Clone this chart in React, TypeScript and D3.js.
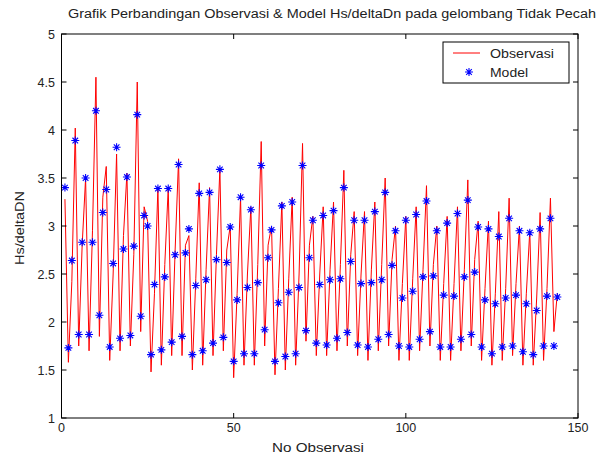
import React from 'react';
import * as d3 from 'd3';

// values, grouped in threes (high, low, middle case)
const observasi = [
  3.28, 1.58, 2.42, 4.02, 1.75, 2.80, 3.50, 1.70, 2.95, 4.55, 1.85, 3.30,
  3.62, 1.60, 2.50, 3.75, 1.70, 2.90, 3.55, 1.75, 2.70, 4.50, 1.90, 3.20,
  3.05, 1.48, 2.30, 3.40, 1.55, 2.60, 3.40, 1.65, 2.75, 3.70, 1.65, 2.80,
  2.90, 1.50, 2.45, 3.45, 1.55, 2.55, 3.40, 1.65, 2.70, 3.60, 1.70, 2.75,
  3.00, 1.42, 2.30, 3.30, 1.55, 2.50, 3.20, 1.55, 2.60, 3.88, 1.75, 2.80,
  3.00, 1.45, 2.35, 3.25, 1.50, 2.45, 3.30, 1.55, 2.50, 3.86, 1.80, 2.80,
  3.10, 1.65, 2.50, 3.20, 1.65, 2.55, 3.25, 1.70, 2.60, 3.58, 1.75, 2.70,
  3.15, 1.65, 2.50, 3.15, 1.60, 2.55, 3.25, 1.70, 2.60, 3.50, 1.75, 2.65,
  3.00, 1.60, 2.40, 3.10, 1.60, 2.45, 3.20, 1.70, 2.55, 3.42, 1.75, 2.60,
  3.00, 1.60, 2.40, 3.10, 1.60, 2.40, 3.20, 1.70, 2.55, 3.48, 1.75, 2.65,
  3.05, 1.60, 2.35, 3.05, 1.55, 2.30, 3.15, 1.60, 2.35, 3.29, 1.65, 2.40,
  3.00, 1.55, 2.30, 2.95, 1.55, 2.25, 3.14, 1.60, 2.35, 3.29, 1.90, 2.30,
];

const model = [
  3.40, 1.73, 2.64, 3.89, 1.87, 2.83, 3.50, 1.87, 2.83, 4.20, 2.07, 3.14,
  3.38, 1.74, 2.61, 3.82, 1.83, 2.76, 3.51, 1.86, 2.79, 4.16, 2.06, 3.11,
  3.00, 1.66, 2.39, 3.39, 1.71, 2.47, 3.39, 1.79, 2.70, 3.64, 1.85, 2.72,
  2.97, 1.66, 2.38, 3.34, 1.70, 2.44, 3.35, 1.78, 2.65, 3.59, 1.84, 2.62,
  2.99, 1.59, 2.23, 3.30, 1.67, 2.36, 3.17, 1.67, 2.41, 3.63, 1.92, 2.67,
  2.96, 1.59, 2.20, 3.21, 1.64, 2.31, 3.25, 1.67, 2.36, 3.63, 1.91, 2.67,
  3.06, 1.78, 2.39, 3.11, 1.76, 2.44, 3.16, 1.83, 2.45, 3.40, 1.89, 2.63,
  3.06, 1.76, 2.40, 3.06, 1.74, 2.41, 3.15, 1.82, 2.44, 3.35, 1.87, 2.59,
  2.95, 1.75, 2.25, 3.06, 1.74, 2.32, 3.12, 1.82, 2.47, 3.26, 1.90, 2.48,
  2.95, 1.74, 2.28, 3.03, 1.74, 2.27, 3.13, 1.82, 2.47, 3.27, 1.87, 2.52,
  2.99, 1.74, 2.23, 2.97, 1.67, 2.19, 2.89, 1.74, 2.25, 3.08, 1.75, 2.28,
  2.95, 1.69, 2.19, 2.93, 1.66, 2.12, 2.97, 1.75, 2.27, 3.08, 1.75, 2.26,
];

const xTicks = [0, 50, 100, 150];
const yTicks = [1, 1.5, 2, 2.5, 3, 3.5, 4, 4.5, 5];

const title = 'Grafik Perbandingan Observasi & Model Hs/deltaDn pada gelombang Tidak Pecah';
const font = '"Liberation Sans", Arial, sans-serif';

const left = 61.5, right = 578, top = 34, bottom = 418;

const Star = ({ x, y, s = 4 }: { x: number; y: number; s?: number }) => {
  const d = s * 0.7;
  return (
    <path
      d={`M${x - s},${y}H${x + s}M${x},${y - s}V${y + s}M${x - d},${y - d}L${x + d},${y + d}M${x - d},${y + d}L${x + d},${y - d}`}
      stroke="#0000ff"
      strokeWidth={1.1}
      fill="none"
    />
  );
};

export default function App() {
  const x = d3.scaleLinear().domain([0, 150]).range([left, right]);
  const y = d3.scaleLinear().domain([1, 5]).range([bottom, top]);

  const line = d3.line<number>()
    .x((_, i) => x(i + 1))
    .y(d => y(d));

  return (
    <svg width={601} height={458} style={{ position: 'absolute', left: 0, top: 0, background: '#fff' }}
      fontFamily={font}>
      <text x={332} y={18} fontSize={12.5} textAnchor="middle" fill="#222" textLength={528}
        lengthAdjust="spacingAndGlyphs">{title}</text>

      <path d={line(observasi) || ''} fill="none" stroke="#ff0000" strokeWidth={1} />
      {model.map((v, i) => <Star key={i} x={x(i + 1)} y={y(v)} />)}

      <rect x={left} y={top} width={right - left} height={bottom - top} fill="none" stroke="#000" strokeWidth={1} />

      {xTicks.map(t => (
        <g key={'x' + t}>
          <line x1={x(t)} x2={x(t)} y1={bottom} y2={bottom - 5} stroke="#000" />
          <line x1={x(t)} x2={x(t)} y1={top} y2={top + 5} stroke="#000" />
          <text x={x(t)} y={432} fontSize={12.5} textAnchor="middle" fill="#222">{t}</text>
        </g>
      ))}
      {yTicks.map(t => (
        <g key={'y' + t}>
          <line x1={left} x2={left + 5} y1={y(t)} y2={y(t)} stroke="#000" />
          <line x1={right} x2={right - 5} y1={y(t)} y2={y(t)} stroke="#000" />
          <text x={55} y={y(t) + 4.5} fontSize={12.5} textAnchor="end" fill="#222">{t}</text>
        </g>
      ))}

      <text x={318} y={452} fontSize={12.5} textAnchor="middle" fill="#222" textLength={92}
        lengthAdjust="spacingAndGlyphs">No Observasi</text>
      <text transform={`translate(24,228) rotate(-90)`} fontSize={12.5} textAnchor="middle" fill="#222"
        textLength={74} lengthAdjust="spacingAndGlyphs">Hs/deltaDN</text>

      <g>
        <rect x={443} y={42} width={126} height={41} fill="#fff" stroke="#000" strokeWidth={1} />
        <line x1={453} x2={480} y1={53} y2={53} stroke="#ff0000" />
        <text x={490} y={57.5} fontSize={12.5} fill="#222" textLength={64}
          lengthAdjust="spacingAndGlyphs">Observasi</text>
        <Star x={469} y={72} />
        <text x={490} y={76.5} fontSize={12.5} fill="#222" textLength={38}
          lengthAdjust="spacingAndGlyphs">Model</text>
      </g>
    </svg>
  );
}
